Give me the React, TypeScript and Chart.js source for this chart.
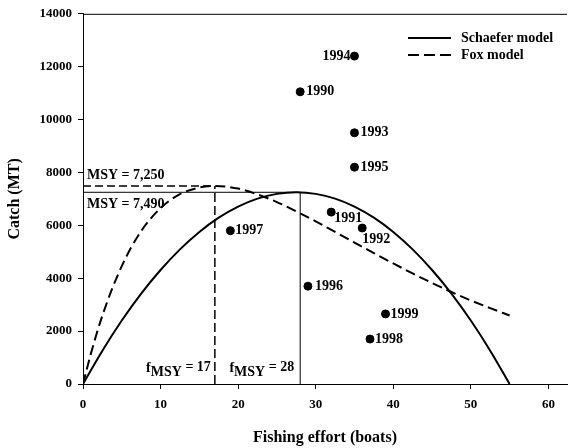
import React, { useEffect, useRef } from "react";
import { Chart, registerables } from "chart.js";

Chart.register(...registerables);

// Observed catch vs effort
const years = ["1990", "1991", "1992", "1993", "1994", "1995", "1996", "1997", "1998", "1999"];
const effort = [28, 32, 36, 35, 35, 35, 29, 19, 37, 39];
const catchMT = [11050, 6500, 5900, 9500, 12400, 8200, 3700, 5800, 1700, 2650];
// label placement per year: [dx, dy, align]
const labelPlacement: [number, number, CanvasTextAlign][] = [
  [6, 0, "left"], [3, 6, "left"], [0, 11, "left"], [6, 0, "left"], [-4, 0, "right"],
  [6, 0, "left"], [7, 0, "left"], [5, 0, "left"], [5, 0, "left"], [5, 0, "left"],
];

// Schaefer model curve
const schaeferEffort = [0, 2.5, 5, 7.5, 10, 12.5, 15, 17.5, 20, 22.5, 25, 27.5, 30, 32.5, 35, 37.5, 40, 42.5, 45, 47.5, 50, 52.5, 55];
const schaeferCatch = [0, 1260, 2400, 3420, 4310, 5090, 5750, 6290, 6710, 7010, 7190, 7250, 7190, 7010, 6710, 6290, 5750, 5090, 4310, 3420, 2400, 1260, 0];

// Fox model curve
const foxEffort = [0, 1, 2.5, 5, 7.5, 10, 12.5, 15, 17, 20, 22.5, 25, 27.5, 30, 32.5, 35, 37.5, 40, 42.5, 45, 47.5, 50, 52.5, 55];
const foxCatch = [0, 1130, 2590, 4460, 5780, 6650, 7180, 7430, 7490, 7390, 7170, 6880, 6530, 6150, 5750, 5350, 4950, 4560, 4180, 3820, 3480, 3160, 2870, 2590];

const msySchaefer = 7250;
const fmsySchaefer = 28;
const msyFox = 7490;
const fmsyFox = 17;

const xTicks = [0, 10, 20, 30, 40, 50, 60];
const yTicks = [0, 2000, 4000, 6000, 8000, 10000, 12000, 14000];

const FONT = "'Liberation Serif', 'Times New Roman', serif";

const annotations = {
  id: "annotations",
  afterDraw(chart: any) {
    const ctx = chart.ctx as CanvasRenderingContext2D;
    const { chartArea } = chart;
    const xs = chart.scales.x;
    const ys = chart.scales.y;
    ctx.save();
    // top border
    ctx.strokeStyle = "#000";
    ctx.lineWidth = 1;
    ctx.beginPath();
    ctx.moveTo(chartArea.left, chartArea.top + 0.5);
    ctx.lineTo(chartArea.right, chartArea.top + 0.5);
    ctx.stroke();

    ctx.fillStyle = "#000";
    ctx.textBaseline = "middle";
    ctx.font = `bold 14px ${FONT}`;
    years.forEach((yr, i) => {
      const px = xs.getPixelForValue(effort[i]);
      const py = ys.getPixelForValue(catchMT[i]);
      const [dx, dy, al] = labelPlacement[i];
      ctx.textAlign = al;
      ctx.fillText(yr, px + dx, py + dy);
    });

    // MSY labels
    ctx.font = `bold 14px ${FONT}`;
    ctx.textAlign = "left";
    ctx.fillText("MSY = 7,250", chartArea.left + 4, ys.getPixelForValue(msyFox) - 11);
    ctx.fillText("MSY = 7,490", chartArea.left + 4, ys.getPixelForValue(msySchaefer) + 12);

    // fMSY labels
    const drawF = (value: string, rightX: number, baseY: number) => {
      ctx.textBaseline = "alphabetic";
      ctx.font = `bold 14px ${FONT}`;
      const fW = ctx.measureText("f").width;
      const mW = ctx.measureText("MSY").width;
      const rest = " = " + value;
      const rW = ctx.measureText(rest).width;
      const total = fW + mW + rW;
      let x = rightX - total;
      ctx.textAlign = "left";
      ctx.fillText("f", x, baseY);
      x += fW;
      ctx.fillText("MSY", x, baseY + 4);
      x += mW;
      ctx.fillText(rest, x, baseY - 1);
    };
    const base = ys.getPixelForValue(0) - 12;
    drawF(String(fmsyFox), xs.getPixelForValue(fmsyFox) - 4, base);
    drawF(String(fmsySchaefer), xs.getPixelForValue(fmsySchaefer) - 6, base);

    // legend
    ctx.textBaseline = "middle";
    ctx.font = `bold 14px ${FONT}`;
    const lx0 = 408, lx1 = 451, tx = 461;
    ctx.lineWidth = 2;
    ctx.setLineDash([]);
    ctx.beginPath();
    ctx.moveTo(lx0, 38);
    ctx.lineTo(lx1, 38);
    ctx.stroke();
    ctx.fillText("Schaefer model", tx, 38);
    ctx.setLineDash([11, 5]);
    ctx.beginPath();
    ctx.moveTo(lx0, 55);
    ctx.lineTo(lx1, 55);
    ctx.stroke();
    ctx.setLineDash([]);
    ctx.fillText("Fox model", tx, 55);
    ctx.restore();
  },
};

export default function App() {
  const ref = useRef<HTMLCanvasElement>(null);
  useEffect(() => {
    if (!ref.current) return;
    const tickFont = { family: FONT, size: 13, weight: "bold" as const };
    const titleFont = { family: FONT, size: 16, weight: "bold" as const };
    const chart = new Chart(ref.current, {
      type: "scatter",
      data: {
        datasets: [
          {
            type: "line",
            data: schaeferEffort.map((x, i) => ({ x, y: schaeferCatch[i] })),
            borderColor: "#000",
            borderWidth: 2,
            pointRadius: 0,
            cubicInterpolationMode: "monotone",
            fill: false,
          } as any,
          {
            type: "line",
            data: foxEffort.map((x, i) => ({ x, y: foxCatch[i] })),
            borderColor: "#000",
            borderWidth: 2,
            borderDash: [10, 5],
            pointRadius: 0,
            cubicInterpolationMode: "monotone",
            fill: false,
          } as any,
          {
            type: "line",
            data: [{ x: 0, y: msySchaefer }, { x: fmsySchaefer, y: msySchaefer }],
            borderColor: "#000",
            borderWidth: 1,
            pointRadius: 0,
          } as any,
          {
            type: "line",
            data: [{ x: fmsySchaefer, y: 0 }, { x: fmsySchaefer, y: msySchaefer }],
            borderColor: "#000",
            borderWidth: 1,
            pointRadius: 0,
          } as any,
          {
            type: "line",
            data: [{ x: 0, y: msyFox }, { x: fmsyFox, y: msyFox }],
            borderColor: "#000",
            borderWidth: 1.5,
            borderDash: [8, 4],
            pointRadius: 0,
          } as any,
          {
            type: "line",
            data: [{ x: fmsyFox, y: 0 }, { x: fmsyFox, y: msyFox }],
            borderColor: "#000",
            borderWidth: 1.5,
            borderDash: [9, 4],
            pointRadius: 0,
          } as any,
          {
            type: "scatter",
            data: effort.map((x, i) => ({ x, y: catchMT[i] })),
            backgroundColor: "#000",
            borderColor: "#000",
            pointRadius: 4,
          } as any,
        ],
      },
      options: {
        animation: false,
        responsive: false,
        layout: { padding: { top: 12, right: 0, left: 0, bottom: 0 } },
        plugins: { legend: { display: false }, tooltip: { enabled: false } },
        scales: {
          x: {
            type: "linear",
            min: 0,
            max: 62.4,
            afterBuildTicks: (s: any) => {
              s.ticks = xTicks.map((v) => ({ value: v }));
            },
            afterFit: (s: any) => {
              s.height = 64;
            },
            grid: { drawOnChartArea: false, tickLength: 5, color: "#000" },
            border: { color: "#000", width: 1 },
            ticks: { font: tickFont, color: "#000", padding: 8, callback: (v: any) => String(v) },
            title: {
              display: true,
              text: "Fishing effort (boats)",
              font: titleFont,
              color: "#000",
              padding: { top: 0, bottom: 1 },
            },
          },
          y: {
            type: "linear",
            min: 0,
            max: 14000,
            afterBuildTicks: (s: any) => {
              s.ticks = yTicks.map((v) => ({ value: v }));
            },
            afterFit: (s: any) => {
              s.width = 83;
            },
            grid: { drawOnChartArea: false, tickLength: 5, color: "#000" },
            border: { color: "#000", width: 1 },
            ticks: { font: tickFont, color: "#000", padding: 6, callback: (v: any) => String(v) },
            title: {
              display: true,
              text: "Catch (MT)",
              font: titleFont,
              color: "#000",
              padding: { top: 5, bottom: 0 },
            },
          },
        },
      },
      plugins: [annotations],
    });
    return () => chart.destroy();
  }, []);
  return (
    <div style={{ position: "absolute", left: 0, top: 0, width: 572, height: 448, background: "#fff" }}>
      <canvas ref={ref} width={572} height={448} style={{ display: "block" }} />
    </div>
  );
}
